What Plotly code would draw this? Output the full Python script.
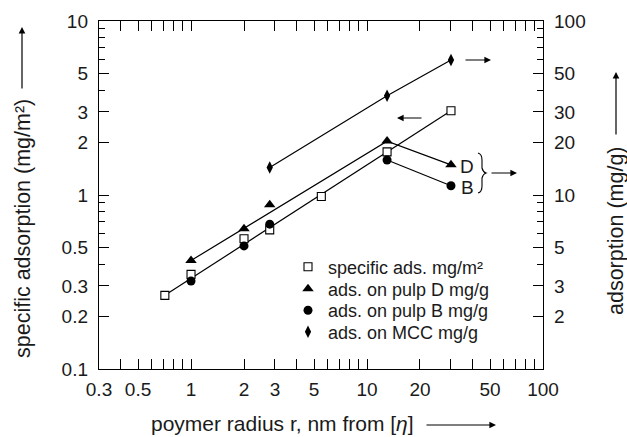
import plotly.graph_objects as go

# ---------------- data ----------------
radius_sq = [0.71, 1.0, 2.0, 2.8, 5.5, 13.0, 30.0]
spec_ads = [0.265, 0.35, 0.56, 0.63, 0.98, 1.77, 3.05]          # mg/m2 (left axis)

radius_pulp = [1.0, 2.0, 2.8, 13.0, 30.0]
ads_D = [4.2, 6.4, 8.8, 20.4, 14.9]                               # mg/g (right axis)
ads_B = [3.2, 5.1, 6.8, 15.9, 11.3]                               # mg/g (right axis)

radius_mcc = [2.8, 13.0, 30.0]
ads_mcc = [14.4, 37.2, 59.7]                                      # mg/g (right axis)

x_tickvals = [0.3, 0.5, 1, 2, 3, 5, 10, 20, 30, 50, 100]
x_ticktext = ["0.3", "0.5", "1", "2", "3", "5", "10", "20", "", "50", "100"]
x_minor = [0.4, 0.6, 0.7, 0.8, 0.9, 4, 6, 7, 8, 9, 40, 60, 70, 80, 90]

yl_tickvals = [0.1, 0.2, 0.3, 0.5, 1, 2, 3, 5, 10]
yl_ticktext = ["0.1", "0.2", "0.3", "0.5", "1", "2", "3", "5", "10"]
yl_minor = [0.4, 0.6, 0.7, 0.8, 0.9, 4, 6, 7, 8, 9]

yr_tickvals = [1, 2, 3, 5, 10, 20, 30, 50, 100]
yr_ticktext = ["", "2", "3", "5", "10", "20", "30", "50", "100"]
yr_minor = [4, 6, 7, 8, 9, 40, 60, 70, 80, 90]

legend_names = ["specific ads. mg/m²", "ads. on pulp D mg/g",
                "ads. on pulp B mg/g", "ads. on MCC mg/g"]

# ---------------- layout geometry ----------------
W, H = 627, 437
L, R, T, B = 99, 84, 21, 68
PW, PH = W - L - R, H - T - B
FONT = "Liberation Sans, Arial, Helvetica, sans-serif"
TXT = "#1a1a1a"


def px(x):
    return (x - L) / PW


def py(y):
    return (H - B - y) / PH


line_style = dict(color="black", width=1.2)

fig = go.Figure()

# fitted lines
fig.add_trace(go.Scatter(x=[radius_sq[0], radius_sq[-1]], y=[spec_ads[0], spec_ads[-1]],
                         mode="lines", line=line_style, showlegend=False, hoverinfo="skip"))
fig.add_trace(go.Scatter(x=[radius_pulp[0], radius_pulp[3], radius_pulp[4]],
                         y=[ads_D[0], ads_D[3], ads_D[4]], yaxis="y2",
                         mode="lines", line=line_style, showlegend=False, hoverinfo="skip"))
fig.add_trace(go.Scatter(x=[radius_pulp[3], radius_pulp[4]], y=[ads_B[3], ads_B[4]], yaxis="y2",
                         mode="lines", line=line_style, showlegend=False, hoverinfo="skip"))
fig.add_trace(go.Scatter(x=radius_mcc, y=ads_mcc, yaxis="y2",
                         mode="lines", line=line_style, showlegend=False, hoverinfo="skip"))

# markers (each in its own legend so rows can be spaced like the original)
fig.add_trace(go.Scatter(x=radius_sq, y=spec_ads, mode="markers", name=legend_names[0],
                         legend="legend",
                         marker=dict(symbol="square", size=8, color="white",
                                     line=dict(color="black", width=1.1))))
fig.add_trace(go.Scatter(x=radius_pulp, y=ads_D, yaxis="y2", mode="markers", name=legend_names[1],
                         legend="legend2",
                         marker=dict(symbol="triangle-up", size=10, color="black",
                                     line=dict(width=0))))
fig.add_trace(go.Scatter(x=radius_pulp, y=ads_B, yaxis="y2", mode="markers", name=legend_names[2],
                         legend="legend3",
                         marker=dict(symbol="circle", size=9, color="black", line=dict(width=0))))
fig.add_trace(go.Scatter(x=radius_mcc, y=ads_mcc, yaxis="y2", mode="markers", name=legend_names[3],
                         legend="legend4",
                         marker=dict(symbol="diamond-tall", size=9, color="black",
                                     line=dict(width=0))))

axis_common = dict(type="log", showline=True, linecolor="black", linewidth=1.4,
                   ticks="inside", ticklen=10, tickwidth=1.2, tickcolor="black",
                   showgrid=False, zeroline=False,
                   tickfont=dict(family=FONT, size=19, color=TXT))

legend_rows = [267, 289, 310.5, 332]


def legend_at(row_y):
    return dict(x=px(288), y=py(row_y), xanchor="left", yanchor="middle",
                bgcolor="rgba(0,0,0,0)", borderwidth=0,
                font=dict(family=FONT, size=18, color=TXT),
                itemwidth=30)


fig.update_layout(
    width=W, height=H,
    margin=dict(l=L, r=R, t=T, b=B),
    paper_bgcolor="white", plot_bgcolor="white",
    font=dict(family=FONT, color=TXT),
    xaxis=dict(**axis_common, range=[-0.5229, 2], tickmode="array",
               tickvals=x_tickvals, ticktext=x_ticktext, mirror="allticks",
               ticklabelstandoff=3,
               minor=dict(tickmode="array", tickvals=x_minor, ticks="inside",
                          ticklen=6, tickwidth=1.2, tickcolor="black", showgrid=False)),
    yaxis=dict(**axis_common, range=[-1, 1], tickmode="array",
               tickvals=yl_tickvals, ticktext=yl_ticktext, mirror=True,
               ticklabelstandoff=6,
               minor=dict(tickmode="array", tickvals=yl_minor, ticks="inside",
                          ticklen=6, tickwidth=1.2, tickcolor="black", showgrid=False)),
    yaxis2=dict(**axis_common, range=[0, 2], overlaying="y", side="right", anchor="x",
                tickmode="array", tickvals=yr_tickvals, ticktext=yr_ticktext,
                ticklabelstandoff=6,
                minor=dict(tickmode="array", tickvals=yr_minor, ticks="inside",
                           ticklen=6, tickwidth=1.2, tickcolor="black", showgrid=False)),
    legend=legend_at(legend_rows[0]),
    legend2=legend_at(legend_rows[1]),
    legend3=legend_at(legend_rows[2]),
    legend4=legend_at(legend_rows[3]),
    showlegend=True,
)


def label(x, y, text, size, angle=0):
    return dict(x=px(x), y=py(y), xref="paper", yref="paper", showarrow=False,
                xanchor="center", yanchor="middle", textangle=angle, text=text,
                font=dict(family=FONT, size=size, color=TXT))


ann = [
    label(282, 423, "poymer radius r, nm from [<i>η</i>]", 21),
    label(23, 229, "specific adsorption (mg/m²)", 21.5, -90),
    label(616, 231, "adsorption (mg/g)", 21.5, -90),
    label(467, 166, "D", 19),
    label(467, 187, "B", 19),
]


def arrow(hx, hy, tx, ty):
    return dict(x=px(hx), y=py(hy), xref="paper", yref="paper", text="",
                showarrow=True, arrowhead=2, arrowsize=1.1, arrowwidth=1.2,
                arrowcolor="black", ax=tx - hx, ay=ty - hy, standoff=0)


ann += [
    arrow(491, 60, 464, 60),     # MCC -> right axis
    arrow(397, 118, 423, 118),   # specific -> left axis
    arrow(517, 173, 490, 173),   # D/B -> right axis
    arrow(22, 27, 22, 90),       # left title arrow
    arrow(616, 72, 616, 136),    # right title arrow
    arrow(496, 425, 425, 425),   # x title arrow
]
fig.update_layout(annotations=ann)

# brace "}"
bx, btop, bbot, bmid = 478, 153, 193, 173
pts = [(bx, btop), (bx + 4, btop + 1), (bx + 4, btop + 7), (bx + 4, bmid - 5),
       (bx + 5, bmid - 1), (bx + 8, bmid), (bx + 5, bmid + 1), (bx + 4, bmid + 5),
       (bx + 4, bbot - 7), (bx + 4, bbot - 1), (bx, bbot)]
P = [(px(a), py(b)) for a, b in pts]
path = (f"M {P[0][0]},{P[0][1]} Q {P[1][0]},{P[1][1]} {P[2][0]},{P[2][1]} "
        f"L {P[3][0]},{P[3][1]} Q {P[4][0]},{P[4][1]} {P[5][0]},{P[5][1]} "
        f"Q {P[6][0]},{P[6][1]} {P[7][0]},{P[7][1]} L {P[8][0]},{P[8][1]} "
        f"Q {P[9][0]},{P[9][1]} {P[10][0]},{P[10][1]}")
fig.add_shape(type="path", path=path, xref="paper", yref="paper",
              line=dict(color="black", width=1.1))

fig.write_html("out.html")
